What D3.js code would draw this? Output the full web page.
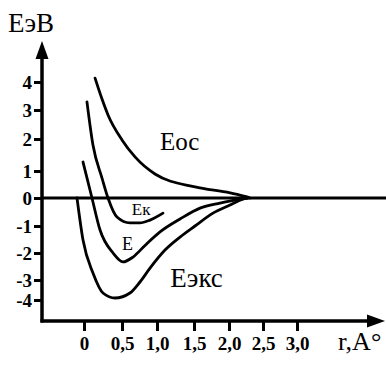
<!DOCTYPE html>
<html><head><meta charset="utf-8">
<script src="https://cdn.jsdelivr.net/npm/d3@7/dist/d3.min.js"></script>
<style>html,body{margin:0;padding:0;background:#fff;}svg{display:block;}
text{font-family:'Liberation Serif','DejaVu Serif',serif;}</style>
</head><body>
<script>
// ---- data ----
const xTicks = [0, 0.5, 1, 1.5, 2, 2.5, 3];
const xTickLabels = ["0", "0,5", "1,0", "1,5", "2,0", "2,5", "3,0"];
const yTicks = [-4, -3, -2, -1, 0, 1, 2, 3, 4];
const yTickLabels = ["-4", "-3", "-2", "-1", "0", "1", "2", "3", "4"];

const rEos = [0.145, 0.237, 0.316, 0.5, 0.686, 0.971, 1.514, 2.015, 2.25, 2.31];
const eEos = [4.14, 3.39, 2.83, 1.97, 1.44, 0.89, 0.41, 0.19, 0.05, 0.0];

const rEk = [0.039, 0.118, 0.237, 0.316, 0.434, 0.614, 0.757, 0.9, 1.081];
const eEk = [3.29, 1.81, 0.74, 0.0, -0.68, -0.89, -0.89, -0.79, -0.54];

const rE = [-0.013, 0.053, 0.105, 0.211, 0.382, 0.514, 0.657, 0.829, 1.041, 1.311, 1.586, 1.871, 2.162, 2.279];
const eE = [1.28, 0.59, 0.0, -1.15, -2.0, -2.33, -2.15, -1.72, -1.22, -0.75, -0.36, -0.18, -0.04, 0.0];

const rEks = [-0.092, -0.013, 0.118, 0.25, 0.408, 0.614, 0.757, 0.9, 1.108, 1.311, 1.514, 1.771, 2.015, 2.206, 2.279];
const eEks = [0.0, -1.52, -2.74, -3.65, -3.9, -3.65, -3.1, -2.56, -1.89, -1.41, -1.0, -0.54, -0.25, -0.04, 0.0];

const seriesNames = ["Еос", "Ек", "Е", "Еэкс"];

// ---- drawing ----
const W = 386, H = 368;
const FONT = "'Liberation Serif','DejaVu Serif',serif";
const svg = d3.select("body").append("svg").attr("width", W).attr("height", H);

const x = d3.scaleLinear().domain(xTicks).range([84, 122, 157, 194, 229, 263, 297]);
const y = d3.scaleLinear().domain(yTicks).range([300, 280, 253, 226, 198, 171, 139, 110, 82]);

const axisX0 = 42;     // y-axis position
const axisY0 = 321;    // x-axis position

// y axis
const yAxis = svg.append("g").attr("transform", `translate(${axisX0},0)`)
  .call(d3.axisLeft(y).tickValues(yTicks).tickSize(8).tickPadding(2)
    .tickFormat((d, i) => yTickLabels[i]));
yAxis.attr("font-family", null);
yAxis.select(".domain").remove();
yAxis.selectAll(".tick line").attr("stroke", "#000").attr("stroke-width", 3);
yAxis.selectAll(".tick text").style("font-family", FONT)
  .attr("font-weight", "bold").attr("font-size", 19).attr("fill", "#000").attr("dy", "0.34em");

// x axis
const xAxis = svg.append("g").attr("transform", `translate(0,${axisY0})`)
  .call(d3.axisBottom(x).tickValues(xTicks).tickSize(10).tickPadding(6)
    .tickFormat((d, i) => xTickLabels[i]));
xAxis.attr("font-family", null);
xAxis.select(".domain").remove();
xAxis.selectAll(".tick line").attr("stroke", "#000").attr("stroke-width", 3);
xAxis.selectAll(".tick text").style("font-family", FONT)
  .attr("font-weight", "bold").attr("font-size", 19).attr("fill", "#000").attr("dy", "0.71em");

// axis lines with arrows
svg.append("line").attr("x1", axisX0).attr("x2", axisX0).attr("y1", 55).attr("y2", axisY0 + 1.5)
  .attr("stroke", "#000").attr("stroke-width", 3.5);
svg.append("path").attr("d", `M${axisX0},41 L${axisX0 - 6.5},59 L${axisX0 + 6.5},59 Z`).attr("fill", "#000");
svg.append("line").attr("x1", axisX0 - 1.5).attr("x2", 372).attr("y1", axisY0).attr("y2", axisY0)
  .attr("stroke", "#000").attr("stroke-width", 3.5);
svg.append("path").attr("d", `M385,${axisY0} L367,${axisY0 - 6.5} L367,${axisY0 + 6.5} Z`).attr("fill", "#000");

// zero line
svg.append("line").attr("x1", axisX0).attr("x2", W).attr("y1", y(0)).attr("y2", y(0))
  .attr("stroke", "#000").attr("stroke-width", 3);

// curves
const line = d3.line().x(d => x(d[0])).y(d => y(d[1])).curve(d3.curveMonotoneX);
const curves = [
  [rEos, eEos], [rEk, eEk], [rE, eE], [rEks, eEks]
];
curves.forEach(([rs, es]) => {
  svg.append("path").datum(rs.map((r, i) => [r, es[i]]))
    .attr("d", line).attr("fill", "none").attr("stroke", "#000")
    .attr("stroke-width", 2.8).attr("stroke-linecap", "round");
});

// labels
const lab = (txt, px, py, size) => svg.append("text").attr("x", px).attr("y", py)
  .style("font-family", FONT).attr("font-size", size).attr("fill", "#000").text(txt);
lab(seriesNames[0], x(1.04), y(1.66), 25);
lab(seriesNames[1], x(0.64), y(-0.62), 17);
lab(seriesNames[2], x(0.5), y(-1.89), 18);
lab(seriesNames[3], x(1.18), y(-3.35), 27);

// axis titles
lab("ЕэВ", 8, 32, 27);
lab("r,A°", 338, 350, 26);
</script>
</body></html>
